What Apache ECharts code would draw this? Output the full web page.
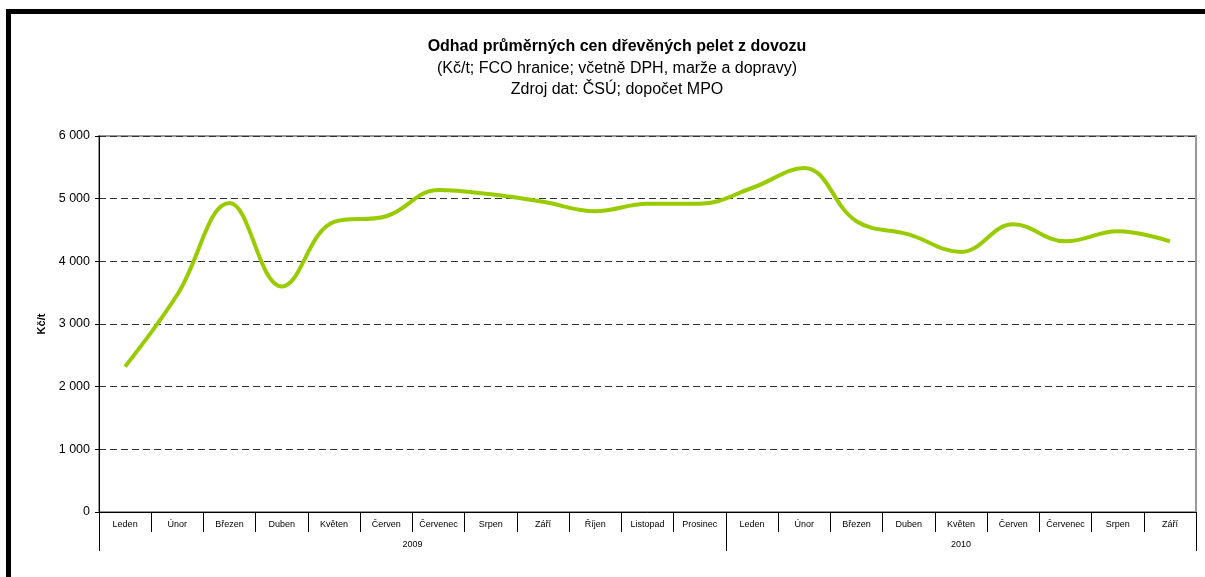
<!DOCTYPE html>
<html>
<head>
<meta charset="utf-8">
<script src="https://cdn.jsdelivr.net/npm/echarts@6/dist/echarts.min.js"></script>
<style>
  html, body { margin: 0; padding: 0; background: #fff; }
  #chart { position: absolute; left: 0; top: 0; width: 1205px; height: 577px; }
  #frame {
    position: absolute; left: 6px; top: 9px; width: 1199px; height: 568px;
    border-left: 5px solid #000; border-top: 5px solid #000;
    box-sizing: border-box; pointer-events: none;
  }
</style>
</head>
<body>
<div id="chart"></div>
<div id="frame"></div>
<script>
// měsíce na ose x (leden 2009 – září 2010)
var months = ['Leden', 'Únor', 'Březen', 'Duben', 'Květen', 'Červen', 'Červenec', 'Srpen', 'Září',
  'Říjen', 'Listopad', 'Prosinec',
  'Leden', 'Únor', 'Březen', 'Duben', 'Květen', 'Červen', 'Červenec', 'Srpen', 'Září']
var years = ['2009', '2010']
var monthsPerYear = [12, 9]
// odhad ceny Kč/t
var prices = [2320, 3470, 4930, 3600, 4630, 4720, 5140, 5070, 4950, 4800, 4920, 4920,
  5170, 5490, 4640, 4430, 4150, 4590, 4320, 4480, 4320]

// hranice a středy roků pro druhou úroveň osy
var yearBounds = [0]
var yearMids = []
for (var i = 0; i < monthsPerYear.length; i++) {
  yearMids.push(yearBounds[i] + monthsPerYear[i] / 2)
  yearBounds.push(yearBounds[i] + monthsPerYear[i])
}

var font = '"Liberation Sans", Arial, sans-serif'
var chart = echarts.init(document.getElementById('chart'))
var option = {
  animation: false,
  backgroundColor: '#fff',
  textStyle: { fontFamily: font },
  title: {
    text: 'Odhad průměrných cen dřevěných pelet z dovozu',
    subtext: '(Kč/t; FCO hranice; včetně DPH, marže a dopravy)\nZdroj dat: ČSÚ; dopočet MPO',
    left: 612,
    textAlign: 'center',
    top: 34,
    itemGap: 3,
    textStyle: { fontFamily: font, fontSize: 16, fontWeight: 'bold', color: '#000' },
    subtextStyle: { fontFamily: font, fontSize: 16, color: '#000', lineHeight: 21 },
  },
  grid: {
    left: 99,
    right: 9,
    top: 136,
    bottom: 65,
    show: true,
    borderColor: '#999',
    borderWidth: 2,
  },
  xAxis: [
    {
      type: 'category',
      data: months,
      boundaryGap: true,
      axisLine: { lineStyle: { color: '#000', width: 1 } },
      axisTick: { show: true, interval: 0, length: 20, lineStyle: { color: '#000' } },
      axisLabel: { interval: 0, fontSize: 9, color: '#000', margin: 8 },
    },
    {
      type: 'value',
      position: 'bottom',
      offset: 0,
      min: 0,
      max: yearBounds[yearBounds.length - 1],
      axisLine: { show: false },
      splitLine: { show: false },
      axisTick: {
        show: true,
        customValues: yearBounds,
        length: 39,
        lineStyle: { color: '#000' },
      },
      axisLabel: {
        customValues: yearMids,
        fontSize: 9,
        color: '#000',
        margin: 28,
        formatter: function (v) {
          return years[yearMids.indexOf(v)]
        },
      },
    },
  ],
  yAxis: {
    type: 'value',
    min: 0,
    max: 6000,
    interval: 1000,
    name: 'Kč/t',
    nameLocation: 'middle',
    nameRotate: 90,
    nameGap: 50,
    nameTextStyle: { fontFamily: font, fontSize: 11, fontWeight: 'bold', color: '#000' },
    axisLine: { show: true, lineStyle: { color: '#000', width: 1 } },
    axisTick: { show: true, length: 4, lineStyle: { color: '#000' } },
    axisLabel: {
      fontSize: 12.5,
      color: '#000',
      margin: 9,
      formatter: function (v) {
        return String(v).replace(/\B(?=(\d{3})+(?!\d))/g, ' ')
      },
    },
    splitLine: {
      show: true,
      lineStyle: { color: '#333', width: 1, type: [7, 4] },
    },
  },
  series: [
    {
      name: 'Cena',
      type: 'line',
      data: prices,
      smooth: 0.4,
      showSymbol: false,
      lineStyle: { color: '#99cc00', width: 4 },
      itemStyle: { color: '#99cc00' },
      z: 5,
    },
  ],
}
chart.setOption(option)
</script>
</body>
</html>
